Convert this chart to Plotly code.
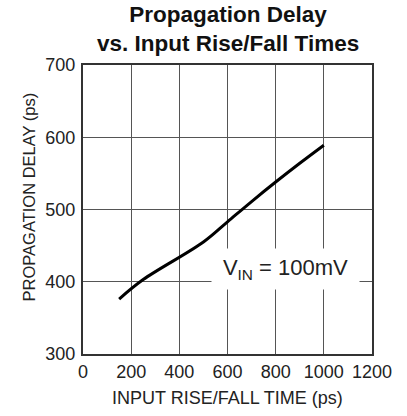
import plotly.graph_objects as go

rise_fall_ps = [150, 250, 500, 600, 700, 800, 900, 1000]
delay_ps = [376, 403, 455, 483, 511, 538, 564, 589]

x_ticks = [0, 200, 400, 600, 800, 1000, 1200]
y_ticks = [300, 400, 500, 600, 700]

W, H = 407, 416
L, R, T, B = 83, 35, 65, 62
FONT = "Liberation Sans, Arial, sans-serif"

fig = go.Figure()
fig.add_trace(go.Scatter(x=rise_fall_ps, y=delay_ps, mode="lines",
                         line=dict(color="black", width=3), line_shape="spline",
                         hoverinfo="skip", showlegend=False))

axis_common = dict(showgrid=True, gridcolor="#555555", gridwidth=1,
                   showline=True, linecolor="#333333", linewidth=2, mirror=True,
                   ticks="", zeroline=False, tickfont=dict(family=FONT, size=18, color="#222222"))

fig.update_xaxes(range=[0, 1200], tickvals=x_ticks, ticklabelstandoff=0, **axis_common)
fig.update_yaxes(range=[300, 700], tickvals=y_ticks, ticklabelstandoff=2, **axis_common)

fig.update_layout(
    width=W, height=H,
    margin=dict(l=L, r=R, t=T, b=B),
    plot_bgcolor="white", paper_bgcolor="white",
    annotations=[
        dict(text="<b>Propagation Delay<br>vs. Input Rise/Fall Times</b>",
             xref="paper", yref="paper", x=0.5, y=1, yshift=7,
             xanchor="center", yanchor="bottom", showarrow=False,
             font=dict(family=FONT, size=22.5, color="#111111")),
        dict(text="INPUT RISE/FALL TIME (ps)", xref="paper", yref="paper",
             x=0.5, y=0, yshift=-(398 - (H - B)), xanchor="center", yanchor="middle",
             showarrow=False, font=dict(family=FONT, size=18, color="#222222")),
        dict(text="PROPAGATION DELAY (ps)", xref="paper", yref="paper",
             x=0, xshift=-(L - 28), y=0.5, yshift=12, textangle=-90,
             xanchor="center", yanchor="middle", showarrow=False,
             font=dict(family=FONT, size=16.5, color="#222222")),
        dict(text="V<sub>IN</sub> = 100mV", x=842, y=418, xref="x", yref="y",
             showarrow=False, bgcolor="white", width=143, height=36, borderpad=2,
             font=dict(family=FONT, size=22, color="#222222")),
    ],
)

fig.write_html("out.html", config={"displayModeBar": False},
               post_script="document.body.style.margin='0';document.body.style.overflow='hidden';")
